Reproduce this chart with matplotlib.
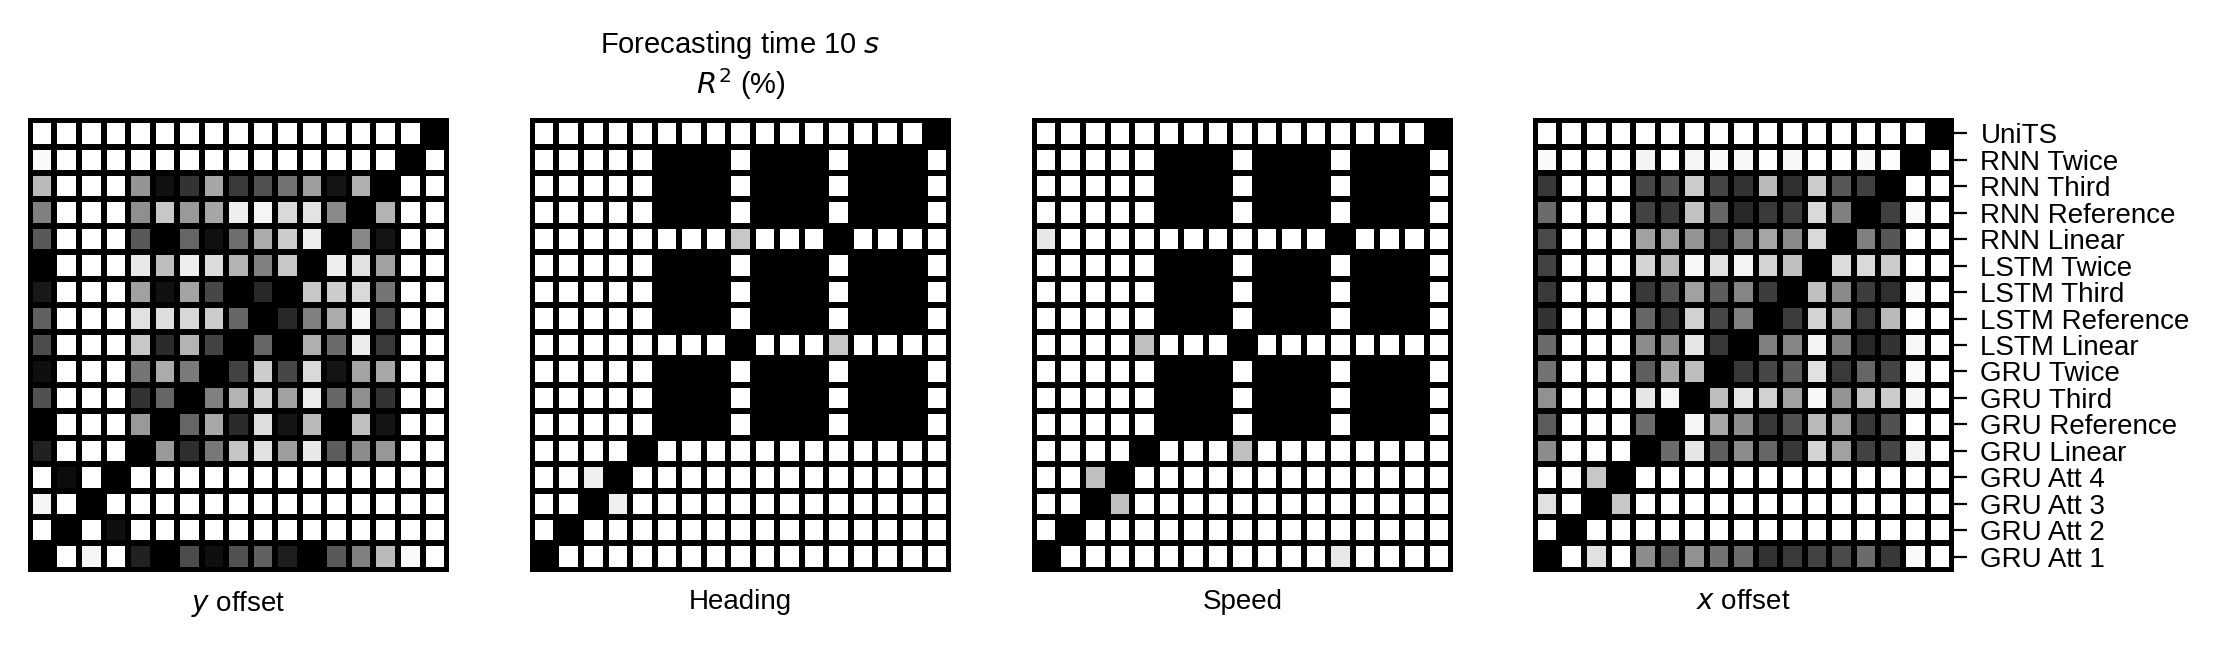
import matplotlib
matplotlib.use("Agg")
import matplotlib.pyplot as plt
import numpy as np

plt.rcParams["font.family"] = ["Liberation Sans", "DejaVu Sans"]
plt.rcParams["font.size"] = 10

# model names, top to bottom (columns run in the reverse order)
models = ["UniTS", "RNN Twice", "RNN Third", "RNN Reference", "RNN Linear",
          "LSTM Twice", "LSTM Third", "LSTM Reference", "LSTM Linear",
          "GRU Twice", "GRU Third", "GRU Reference", "GRU Linear",
          "GRU Att 4", "GRU Att 3", "GRU Att 2", "GRU Att 1"]

panel_titles = ["$y$ offset", "Heading", "Speed", "$x$ offset"]

y_offset = [
    [1, 1, 1, 1, 1, 1, 1, 1, 1, 1, 1, 1, 1, 1, 1, 1, 0],
    [.98, 1, 1, 1, .99, 1, 1, 1, 1, 1, 1, 1, 1, 1, 1, 0, 1],
    [.73, 1, 1, 1, .58, .07, .2, .65, .23, .32, .45, .62, .08, .69, 0, 1, 1],
    [.5, 1, 1, 1, .56, .78, .6, .65, .93, .96, .85, .89, .54, 0, .7, 1, 1],
    [.35, 1, 1, 1, .35, 0, .4, .07, .43, .67, .8, .93, 0, .53, .08, 1, 1],
    [0, 1, 1, 1, .91, .74, .93, .86, .7, .5, .78, 0, .93, .88, .63, 1, 1],
    [.1, 1, 1, 1, .63, .07, .64, .28, 0, .16, 0, .78, .8, .85, .46, 1, 1],
    [.38, 1, 1, 1, .88, .87, .84, .8, .4, 0, .16, .5, .67, .96, .3, 1, 1],
    [.3, 1, 1, 1, .78, .17, .7, .26, 0, .4, 0, .69, .42, .92, .23, 1, 1],
    [.06, 1, 1, 1, .46, .67, .48, 0, .26, .8, .28, .85, .08, .64, .66, 1, 1],
    [.32, 1, 1, 1, .2, .4, 0, .5, .7, .83, .63, .92, .4, .56, .2, 1, 1],
    [0, 1, 1, 1, .6, 0, .4, .66, .17, .87, .08, .73, 0, .75, .08, 1, 1],
    [.13, 1, 1, 1, 0, .6, .18, .47, .77, .88, .62, .91, .36, .55, .59, 1, 1],
    [1, .05, 1, 0, 1, 1, 1, 1, 1, 1, 1, 1, 1, 1, 1, 1, 1],
    [.96, 1, 0, 1, 1, 1, 1, 1, 1, 1, 1, 1, 1, 1, 1, 1, 1],
    [1, 0, 1, .06, 1, 1, 1, 1, 1, 1, 1, 1, 1, 1, 1, 1, 1],
    [0, 1, .96, 1, .13, 0, .3, .06, .32, .38, .12, 0, .35, .5, .73, .98, 1],
]

heading = [
    [1, 1, 1, 1, 1, 1, 1, 1, 1, 1, 1, 1, 1, 1, 1, 1, 0],
    [1, 1, 1, 1, 1, 0, 0, 0, 1, 0, 0, 0, 1, 0, 0, 0, 1],
    [1, 1, 1, 1, 1, 0, 0, 0, 1, 0, 0, 0, 1, 0, 0, 0, 1],
    [1, 1, 1, 1, 1, 0, 0, 0, 1, 0, 0, 0, 1, 0, 0, 0, 1],
    [1, 1, 1, 1, .99, 1, 1, 1, .78, 1, 1, 1, 0, 1, 1, 1, 1],
    [1, 1, 1, 1, 1, 0, 0, 0, 1, 0, 0, 0, 1, 0, 0, 0, 1],
    [1, 1, 1, 1, 1, 0, 0, 0, 1, 0, 0, 0, 1, 0, 0, 0, 1],
    [1, 1, 1, 1, 1, 0, 0, 0, 1, 0, 0, 0, 1, 0, 0, 0, 1],
    [1, 1, 1, 1, .99, 1, 1, 1, 0, 1, 1, 1, .78, 1, 1, 1, 1],
    [1, 1, 1, 1, 1, 0, 0, 0, 1, 0, 0, 0, 1, 0, 0, 0, 1],
    [1, 1, 1, 1, 1, 0, 0, 0, 1, 0, 0, 0, 1, 0, 0, 0, 1],
    [1, 1, 1, 1, 1, 0, 0, 0, 1, 0, 0, 0, 1, 0, 0, 0, 1],
    [1, 1, 1, 1, 0, 1, 1, 1, .99, 1, 1, 1, .99, 1, 1, 1, 1],
    [1, .99, .94, 0, 1, 1, 1, 1, 1, 1, 1, 1, 1, 1, 1, 1, 1],
    [1, 1, 0, .94, 1, 1, 1, 1, 1, 1, 1, 1, 1, 1, 1, 1, 1],
    [1, 0, 1, .99, 1, 1, 1, 1, 1, 1, 1, 1, 1, 1, 1, 1, 1],
    [0, 1, 1, 1, 1, 1, 1, 1, 1, 1, 1, 1, 1, 1, 1, 1, 1],
]

speed = [
    [1, 1, 1, 1, 1, 1, 1, 1, 1, 1, 1, 1, 1, 1, 1, 1, 0],
    [1, 1, 1, 1, 1, 0, 0, 0, 1, 0, 0, 0, 1, 0, 0, 0, 1],
    [1, 1, 1, 1, 1, 0, 0, 0, 1, 0, 0, 0, 1, 0, 0, 0, 1],
    [1, 1, 1, 1, 1, 0, 0, 0, 1, 0, 0, 0, 1, 0, 0, 0, 1],
    [.91, 1, 1, 1, 1, 1, 1, 1, .99, 1, 1, 1, 0, 1, 1, 1, 1],
    [1, 1, 1, 1, 1, 0, 0, 0, 1, 0, 0, 0, 1, 0, 0, 0, 1],
    [1, 1, 1, 1, 1, 0, 0, 0, 1, 0, 0, 0, 1, 0, 0, 0, 1],
    [1, 1, 1, 1, 1, 0, 0, 0, 1, 0, 0, 0, 1, 0, 0, 0, 1],
    [1, 1, 1, 1, .75, 1, 1, 1, 0, 1, 1, 1, .99, 1, 1, 1, 1],
    [1, 1, 1, 1, 1, 0, 0, 0, 1, 0, 0, 0, 1, 0, 0, 0, 1],
    [1, 1, 1, 1, 1, 0, 0, 0, 1, 0, 0, 0, 1, 0, 0, 0, 1],
    [1, 1, 1, 1, 1, 0, 0, 0, 1, 0, 0, 0, 1, 0, 0, 0, 1],
    [1, .99, 1, 1, 0, 1, 1, 1, .75, 1, 1, 1, 1, 1, 1, 1, 1],
    [1, 1, .75, 0, 1, 1, 1, 1, 1, 1, 1, 1, 1, 1, 1, 1, 1],
    [1, 1, 0, .75, 1, 1, 1, 1, 1, 1, 1, 1, 1, 1, 1, 1, 1],
    [1, 0, 1, 1, .99, 1, 1, 1, 1, 1, 1, 1, 1, 1, 1, 1, 1],
    [0, 1, 1, 1, 1, 1, 1, 1, 1, 1, 1, 1, .91, 1, 1, 1, 1],
]

x_offset = [
    [1, 1, 1, 1, 1, 1, 1, 1, 1, 1, 1, 1, 1, 1, 1, 1, 0],
    [.98, 1, 1, 1, .95, 1, .96, .98, .97, .99, .97, 1, .99, .97, .99, 0, 1],
    [.22, 1, 1, 1, .28, .32, .8, .27, .2, .73, .19, .8, .34, .25, 0, 1, 1],
    [.42, 1, 1, 1, .26, .22, .76, .4, .16, .23, .24, .85, .5, 0, .25, .98, 1],
    [.29, 1, 1, 1, .63, .63, .58, .23, .5, .65, .54, .85, 0, .5, .34, 1, 1],
    [.26, 1, .99, 1, .83, .73, .97, .88, .95, .83, .75, 0, .86, .85, .8, 1, 1],
    [.23, 1, .99, 1, .22, .32, .63, .36, .52, .24, 0, .75, .54, .24, .19, .98, 1],
    [.2, 1, 1, 1, .4, .22, .82, .28, .5, 0, .24, .83, .65, .23, .73, .99, 1],
    [.42, 1, 1, 1, .55, .55, .9, .22, 0, .5, .52, .95, .5, .16, .2, .97, 1],
    [.45, 1, 1, 1, .37, .66, .74, 0, .22, .28, .36, .88, .23, .4, .27, .98, 1],
    [.57, 1, 1, 1, .9, .96, 0, .74, .9, .82, .63, .97, .58, .76, .8, .96, 1],
    [.36, 1, .99, 1, .42, 0, .96, .66, .55, .22, .32, .73, .63, .22, .32, 1, 1],
    [.55, 1, .99, 1, 0, .42, .9, .37, .55, .4, .22, .83, .63, .26, .28, .95, 1],
    [1, .99, .78, 0, 1, 1, 1, 1, 1, 1, 1, 1, 1, 1, 1, 1, 1],
    [.88, 1, 0, .78, 1, 1, 1, 1, 1, 1, 1, 1, 1, 1, 1, 1, 1],
    [1, 0, 1, .99, 1, 1, 1, 1, 1, 1, 1, 1, 1, 1, 1, 1, 1],
    [0, 1, .88, 1, .55, .36, .57, .45, .42, .2, .23, .26, .29, .42, .22, .98, 1],
]

panels = [y_offset, heading, speed, x_offset]

fig = plt.figure(figsize=(11.155, 3.245), dpi=200)
lefts = [28, 530, 1032, 1533]
W, H = 2231, 649

for i, (data, name) in enumerate(zip(panels, panel_titles)):
    ax = fig.add_axes([lefts[i] / W, 77 / H, 421 / W, 454 / H])
    ax.set_facecolor("k")
    ax.pcolormesh(np.array(data, dtype=float), cmap="gray", vmin=0, vmax=1,
                  edgecolors="k", linewidth=2.16)
    n = len(data)
    ax.set_xlim(-0.08, n + 0.08)
    ax.set_ylim(n + 0.08, -0.08)
    for s in ax.spines.values():
        s.set_visible(False)
    ax.set_xticks([])
    ax.set_xlabel(name, labelpad=6)
    if i == 3:
        ax.yaxis.tick_right()
        ax.set_yticks(np.arange(n) + 0.5, models)
        ax.tick_params(axis="y", length=4.5, width=0.8, pad=5)
    else:
        ax.set_yticks([])
    if i == 1:
        ax.set_title("Forecasting time 10 $s$\n$R^2$ (%)", fontsize=10.5,
                     pad=8.5, linespacing=1.2)

fig.savefig("out.png", dpi=200)
